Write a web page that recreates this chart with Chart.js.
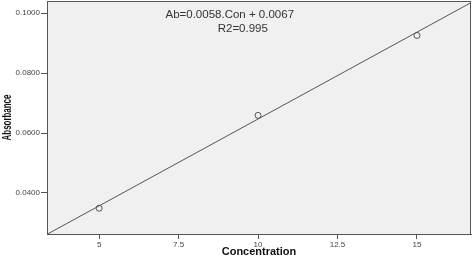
<!DOCTYPE html>
<html><head><meta charset="utf-8">
<script src="https://cdn.jsdelivr.net/npm/chart.js@4.4.1/dist/chart.umd.min.js"></script>
<style>html,body{margin:0;padding:0;background:#fff}#wrap{width:472px;height:259px}</style>
</head><body><div id="wrap"><canvas id="c" width="472" height="259"></canvas></div>
<script>
const concentration = [5, 10, 15];
const absorbance = [0.0349, 0.0659, 0.0926];
const fitSlope = 0.0058;
const fitIntercept = 0.0067;
const xTicks = [5, 7.5, 10, 12.5, 15];
const yTicks = [0.04, 0.06, 0.08, 0.10];
const xRange = [3.36, 16.70];
const yRange = [0.0263, 0.1041];
const equationText = ["Ab=0.0058.Con + 0.0067", "R2=0.995"];
const yTitle = "Absorbance";
const xTitle = "Concentration";

const fitLine = xRange.map(x => ({x: x, y: fitSlope * x + fitIntercept}));
const pts = concentration.map((c, i) => ({x: c, y: absorbance[i]}));

const areaPlugin = {
  id: 'area',
  beforeDraw(chart) {
    const a = chart.chartArea, ctx = chart.ctx;
    ctx.save();
    ctx.fillStyle = '#f0f0f0';
    ctx.fillRect(a.left, a.top, a.right - a.left, a.bottom - a.top);
    ctx.restore();
  },
  afterDraw(chart) {
    const a = chart.chartArea, ctx = chart.ctx;
    ctx.save();
    ctx.strokeStyle = '#555';
    ctx.lineWidth = 1;
    ctx.strokeRect(a.left + 0.5, a.top + 0.5, a.right - a.left - 1, a.bottom - a.top);
    const xs = chart.scales.x, ys = chart.scales.y;
    ctx.fillStyle = '#333';
    ctx.font = '11.5px "Liberation Sans", Arial, sans-serif';
    ctx.textAlign = 'center';
    ctx.textBaseline = 'middle';
    ctx.fillText(equationText[0], xs.getPixelForValue(9.11), ys.getPixelForValue(0.0994));
    ctx.fillText(equationText[1], xs.getPixelForValue(9.52), ys.getPixelForValue(0.0947));
    ctx.restore();
    // condensed y title
    ctx.save();
    ctx.translate(8, (a.top + a.bottom) / 2);
    ctx.rotate(-Math.PI / 2);
    ctx.scale(0.66, 1);
    ctx.fillStyle = '#111';
    ctx.textAlign = 'center';
    ctx.textBaseline = 'middle';
    ctx.font = 'bold 12px "Liberation Sans", Arial, sans-serif';
    ctx.fillText(yTitle, 0, 0);
    ctx.restore();
  }
};

new Chart(document.getElementById('c'), {
  type: 'scatter',
  data: {
    datasets: [
      {type: 'line', data: fitLine, borderColor: '#555', borderWidth: 1, pointRadius: 0, fill: false, order: 2},
      {data: pts, borderColor: '#555', backgroundColor: 'rgba(0,0,0,0)', borderWidth: 1, pointRadius: 3, pointStyle: 'circle', order: 1}
    ]
  },
  options: {
    responsive: false,
    animation: false,
    layout: {autoPadding: false, padding: {top: 1, right: 1, left: 0, bottom: 0}},
    plugins: {legend: {display: false}, tooltip: {enabled: false}},
    scales: {
      x: {
        type: 'linear', min: xRange[0], max: xRange[1],
        afterBuildTicks: s => { s.ticks = xTicks.map(v => ({value: v})); },
        afterFit: s => { s.height = 25; s.paddingLeft = 0; s.paddingRight = 0; },
        ticks: {color: '#444', font: {family: '"Liberation Sans", Arial, sans-serif', size: 8}, padding: 1, maxRotation: 0,
          callback: v => String(v)},
        grid: {drawOnChartArea: false, tickLength: 5, color: '#555'},
        border: {display: true, color: '#555'},
        title: {display: true, text: xTitle, color: '#111', font: {family: '"Liberation Sans", Arial, sans-serif', size: 11, weight: 'bold'}, padding: {top: 0, bottom: 0}}
      },
      y: {
        type: 'linear', min: yRange[0], max: yRange[1],
        afterBuildTicks: s => { s.ticks = yTicks.map(v => ({value: v})); },
        afterFit: s => { s.width = 47; s.paddingTop = 0; s.paddingBottom = 0; },
        ticks: {color: '#444', font: {family: '"Liberation Sans", Arial, sans-serif', size: 8}, padding: 1,
          callback: v => Number(v).toFixed(4)},
        grid: {drawOnChartArea: false, tickLength: 6, color: '#555'},
        border: {display: true, color: '#555'},
        title: {display: false}
      }
    }
  },
  plugins: [areaPlugin]
});
</script></body></html>
